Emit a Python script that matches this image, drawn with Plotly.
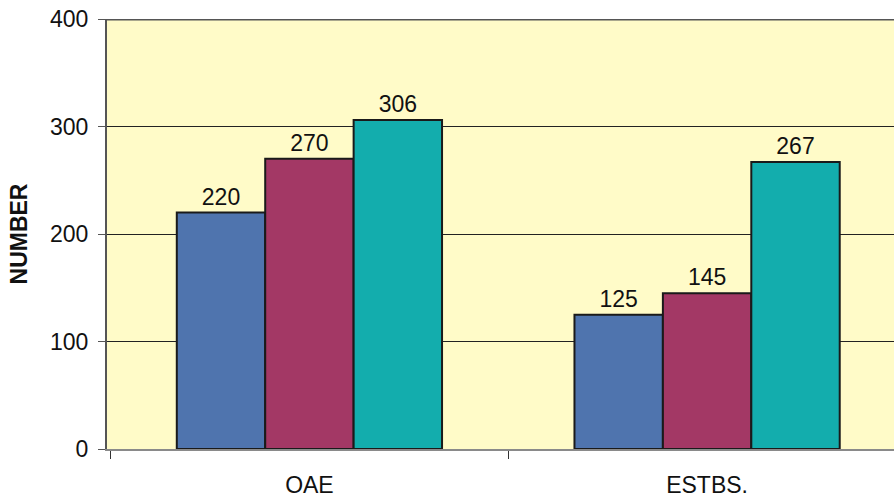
import plotly.graph_objects as go

categories = ["OAE", "ESTBS."]
series_a = [220, 125]
series_b = [270, 145]
series_c = [306, 267]
y_ticks = [0, 100, 200, 300, 400]

colors = ["#4F74AE", "#A33865", "#13ADAD"]

fig = go.Figure()
for vals, col in zip([series_a, series_b, series_c], colors):
    fig.add_trace(go.Bar(
        x=categories, y=vals, marker=dict(color=col, line=dict(color="#1a1a1a", width=2)),
        text=[str(v) for v in vals], textposition="outside", cliponaxis=False,
        textfont=dict(family="Liberation Sans, Arial", size=23, color="#111"),
    ))

fig.update_layout(
    width=894, height=497,
    margin=dict(l=107, r=0, t=19, b=48),
    plot_bgcolor="#FFFBC8", paper_bgcolor="white",
    barmode="group", bargap=0.333, bargroupgap=0,
    showlegend=False,
    font=dict(family="Liberation Sans, Arial", size=24, color="#111"),
)
fig.update_xaxes(
    range=[-0.509, 1.470], showgrid=False, tickson="boundaries",
    ticks="outside", ticklen=8, tickcolor="#333", ticklabelstandoff=14,
    showline=True, linecolor="#8a8a8a", linewidth=2,
    tickfont=dict(size=23),
)
fig.update_yaxes(
    range=[0, 400], tickvals=y_ticks, showgrid=True, gridcolor="#222", gridwidth=1,
    zeroline=False, showline=True, linecolor="#555", linewidth=2,
    ticks="outside", ticklen=7, tickcolor="#555", ticklabelstandoff=5,
    title=dict(text="<b>NUMBER</b>", font=dict(size=23), standoff=16),
    tickfont=dict(size=23),
)
fig.add_shape(type="line", xref="paper", yref="y", x0=0, x1=1, y0=400, y1=400,
              line=dict(color="#555", width=3))

fig.write_html("out.html", config={"displayModeBar": False},
               post_script="document.body.style.margin='0';document.body.style.overflow='hidden';")
